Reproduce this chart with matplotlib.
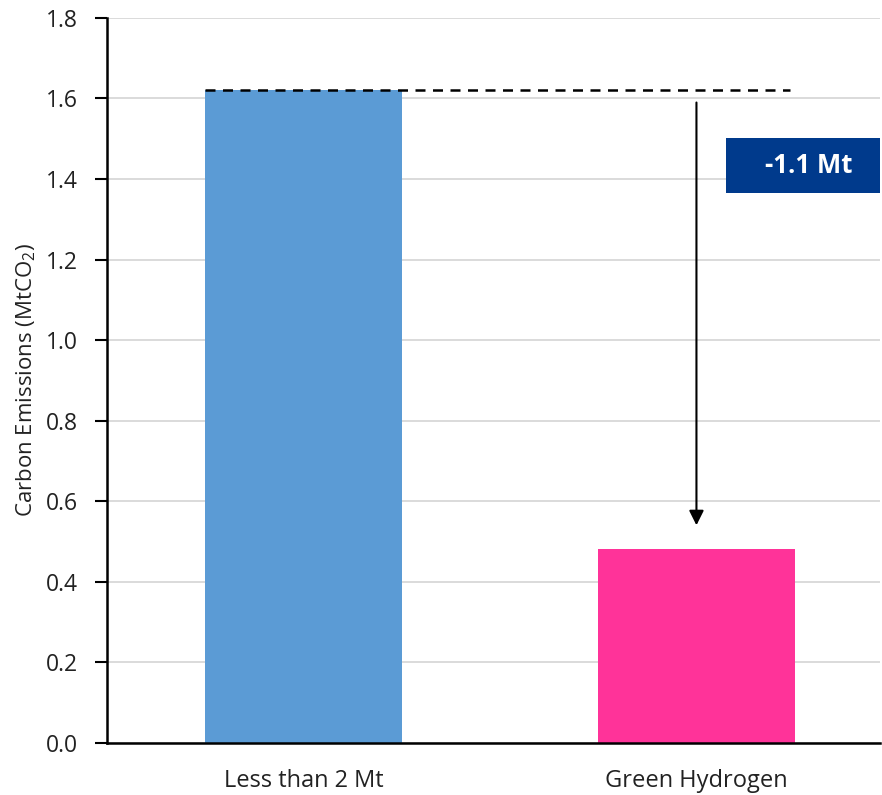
import matplotlib
matplotlib.use("Agg")
import matplotlib.pyplot as plt
from matplotlib.patches import Rectangle

categories = ["Less than 2 Mt", "Green Hydrogen"]
emissions = [1.62, 0.48]
bar_colors = ["#5B9BD5", "#FF3399"]
reduction_label = "-1.1 Mt"
y_ticks = [0.0, 0.2, 0.4, 0.6, 0.8, 1.0, 1.2, 1.4, 1.6, 1.8]

plt.rcParams["font.family"] = ["Open Sans", "DejaVu Sans"]
plt.rcParams["mathtext.fontset"] = "custom"
plt.rcParams["mathtext.rm"] = "Open Sans"
plt.rcParams["mathtext.it"] = "Open Sans:italic"

fig = plt.figure(figsize=(8.82, 7.95), dpi=100)
ax = fig.add_axes([0.1213, 0.0658, 0.8764, 0.9116])

x = list(range(len(categories)))
ax.bar(x, emissions, width=0.5, color=bar_colors, zorder=2)

ax.set_xlim(-0.5, 1.467)
ax.set_ylim(0, 1.8)
ax.set_yticks(y_ticks)
ax.set_yticklabels([f"{v:.1f}" for v in y_ticks], fontsize=16.5, color="#222222")
ax.set_xticks(x)
ax.set_xticklabels(categories, fontsize=17, color="#222222")
ax.tick_params(axis="x", length=0, pad=19)
ax.tick_params(axis="y", length=9, width=1.5, direction="out", pad=12)

ax.grid(axis="y", color="#D4D4D4", linewidth=1.2, zorder=0)
ax.set_axisbelow(True)
for side in ["top", "right"]:
    ax.spines[side].set_visible(False)
ax.spines["left"].set_linewidth(1.8)
ax.spines["bottom"].set_linewidth(1.8)

ax.set_ylabel("Carbon Emissions (MtCO$_2$)", fontsize=16, color="#222222")
ax.yaxis.set_label_coords(-0.089, 0.5)

# dashed reference at the baseline level
ax.plot([x[0] - 0.25, 1.238], [emissions[0], emissions[0]], color="black",
        linestyle=(0, (4, 3)), linewidth=1.8, zorder=3)

# arrow showing the drop
ax.annotate("", xy=(x[1], emissions[1] + 0.06), xytext=(x[1], emissions[0] - 0.03),
            arrowprops=dict(arrowstyle="-|>", color="black", lw=1.5,
                            mutation_scale=22, shrinkA=0, shrinkB=0), zorder=3)

# reduction label box
box = Rectangle((1.074, 1.366), 1.467 - 1.074, 0.137, facecolor="#003A8C",
                edgecolor="none", zorder=4, clip_on=False)
ax.add_patch(box)
ax.text(1.074 + (1.467 - 1.074) / 2 + 0.016, 1.366 + 0.0685, reduction_label, color="white",
        fontsize=18.5, fontweight="bold", ha="center", va="center", zorder=5)

fig.savefig("out.png", dpi=100)
